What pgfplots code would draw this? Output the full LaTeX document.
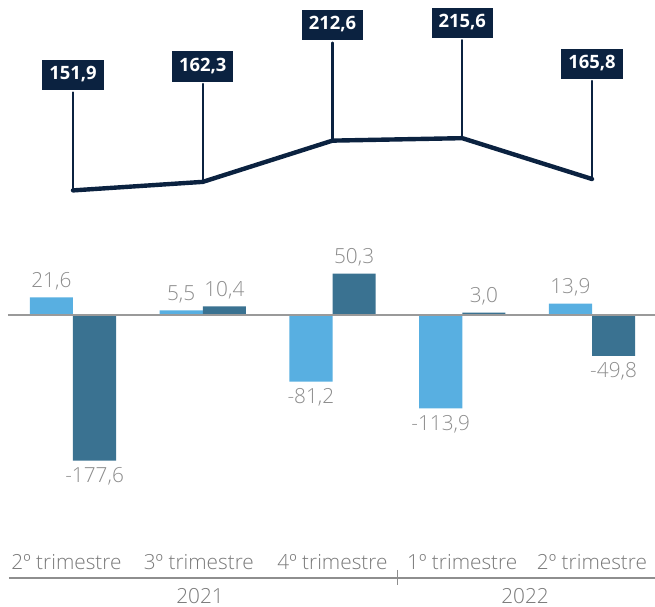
\documentclass[border=0pt]{standalone}
\usepackage{fontspec}
\setmainfont{Open Sans}
\IfFontExistsTF{Open Sans Light}{\newfontfamily\lightfont{Open Sans Light}}{\newcommand\lightfont{\normalfont}}
\usepackage{pgfplots}
\pgfplotsset{compat=1.18}
\definecolor{navy}{HTML}{0B2240}
\definecolor{lightbar}{HTML}{58AFE1}
\definecolor{darkbar}{HTML}{3A7291}
\definecolor{lblgray}{HTML}{8C8C8C}
\definecolor{axgray}{HTML}{7A7A7A}
\definecolor{zerogray}{HTML}{9A9A9A}
\newcommand\lbl{\lightfont\fontsize{10.4pt}{12pt}\selectfont}
\newcommand\bx{\bfseries\fontsize{9.2pt}{11pt}\selectfont}
\begin{document}
\begin{tikzpicture}
\begin{axis}[name=ax, x=64.875pt, y=0.41pt,
  xmin=-0.5626, xmax=4.4855, ymin=-356.1, ymax=384.1,
  hide axis, clip=false,
  /pgf/number format/.cd, use comma, fixed, fixed zerofill, precision=1, assume math mode=true]
% light bars
\addplot[ybar, bar width=21.6pt, bar shift=-10.8pt, fill=lightbar, draw=none,
  nodes near coords, nodes near coords align={vertical},
  every node near coord/.append style={font=\lbl, text=lblgray, xshift=-10.8pt}]
  coordinates {(0,21.6) (1,5.5) (2,-81.2) (3,-113.9) (4,13.9)};
% dark bars
\addplot[ybar, bar width=21.6pt, bar shift=10.8pt, fill=darkbar, draw=none,
  nodes near coords, nodes near coords align={vertical},
  every node near coord/.append style={font=\lbl, text=lblgray, xshift=10.8pt}]
  coordinates {(0,-177.6) (1,10.4) (2,50.3) (3,3.0) (4,-49.8)};
% zero line
\draw[zerogray, line width=1pt] (axis cs:-0.501,0) -- (axis cs:4.4855,0);
% line series
\addplot[navy, line width=2.2pt, line cap=round, mark=none,
  nodes near coords,
  every node near coord/.style={anchor=south, yshift=49pt, fill=navy, text=white, font=\bx,
    inner xsep=3.5pt, inner ysep=3.25pt, text height=6.6pt, text depth=2pt},
  error bars/.cd, y dir=plus, y fixed=119.5, error mark=none,
  error bar style={line width=1.1pt, navy}]
  coordinates {(0,151.9) (1,162.3) (2,212.6) (3,215.6) (4,165.8)};
% category axis
\draw[axgray!85, line width=0.7pt] (axis cs:-0.494,-320.7) -- (axis cs:4.4855,-320.7);
\draw[axgray!85, line width=0.7pt] (axis cs:2.5,-311) -- (axis cs:2.5,-329.3);
\node[anchor=base, font=\lbl, text=axgray] at (axis cs:-0.05,-311) {2º trimestre};
\node[anchor=base, font=\lbl, text=axgray] at (axis cs:0.97,-311) {3º trimestre};
\node[anchor=base, font=\lbl, text=axgray] at (axis cs:2.0,-311) {4º trimestre};
\node[anchor=base, font=\lbl, text=axgray] at (axis cs:3.0,-311) {1º trimestre};
\node[anchor=base, font=\lbl, text=axgray] at (axis cs:4.0,-311) {2º trimestre};
\node[anchor=base, font=\lbl, text=axgray] at (axis cs:0.979,-352.4) {2021};
\node[anchor=base, font=\lbl, text=axgray] at (axis cs:3.484,-352.4) {2022};
\end{axis}
\pgfresetboundingbox
\path (ax.south west) rectangle (ax.north east);
\end{tikzpicture}
\end{document}
